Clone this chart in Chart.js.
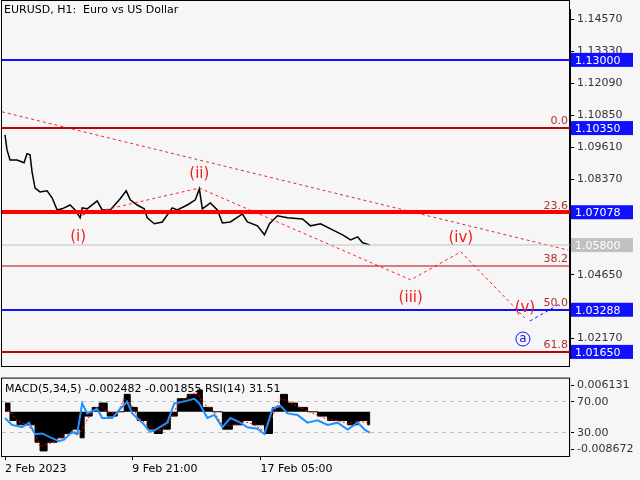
<!DOCTYPE html>
<html>
<head>
<meta charset="utf-8">
<script src="https://cdn.jsdelivr.net/npm/chart.js@4"></script>
<style>
  body { margin: 0; background: #f6f6f6; width: 640px; height: 480px; overflow: hidden; position: relative; font-family: "DejaVu Sans", sans-serif; }
  canvas { position: absolute; left: 0; }
  #main { top: 0; }
  #sub { top: 368px; }
</style>
</head>
<body>
<canvas id="main" width="640" height="368"></canvas>
<canvas id="sub" width="640" height="112"></canvas>
<script>
// price path (x = bar position, y = price)
const priceX = [3,5,8,15,22,25,28,30,33,38,45,50,55,60,68,73,78,80,85,95,100,108,118,124,128,135,142,145,152,160,170,175,185,193,197,200,208,215,220,228,240,245,255,262,267,275,285,300,308,318,330,340,348,355,360,367];
const priceY = [1.1009,1.0950,1.0911,1.0911,1.0900,1.0935,1.0931,1.0865,1.0802,1.0787,1.0791,1.0764,1.0717,1.0721,1.0736,1.0717,1.0686,1.0725,1.0721,1.0752,1.0717,1.0717,1.0760,1.0791,1.0756,1.0736,1.0721,1.0686,1.0663,1.0670,1.0725,1.0717,1.0736,1.0756,1.0799,1.0721,1.0744,1.0717,1.0666,1.0670,1.0701,1.0670,1.0655,1.0620,1.0663,1.0694,1.0686,1.0682,1.0655,1.0663,1.0639,1.0620,1.0600,1.0612,1.0589,1.0581];

// elliott wave path and trend line
const waveX = [80,197,408,458,522];
const waveY = [1.0697,1.0802,1.0445,1.0554,1.0297];
const waveLabels = ["(i)","(ii)","(iii)","(iv)","(v)"];
const trendX = [0,565];
const trendY = [1.1098,1.0561];

// horizontal levels
const levelValues = [1.13000,1.10350,1.07078,1.05800,1.04990,1.03288,1.01650];
const levelLabels = ["1.13000","1.10350","1.07078","1.05800","","1.03288","1.01650"];
const fibValues = [1.10350,1.07078,1.04990,1.03288,1.01650];
const fibLabels = ["0.0","23.6","38.2","50.0","61.8"];
const priceTicks = [1.14570,1.13330,1.12090,1.10850,1.09610,1.08370,1.04650,1.02170];

// indicator panel
const macdX = [3,8,15,25,33,38,45,55,62,70,78,82,90,97,105,115,122,128,135,145,152,160,168,175,185,195,200,210,220,230,240,250,262,270,278,285,295,305,315,325,335,345,355,365,367];
const macdHist = [0.002,-0.002,-0.003,-0.003,-0.007,-0.009,-0.007,-0.006,-0.005,-0.004,-0.006,-0.001,0.001,0.002,-0.001,0.000,0.004,0.001,-0.002,-0.004,-0.005,-0.004,-0.001,0.003,0.004,0.005,0.001,0.000,-0.004,-0.003,-0.002,-0.003,-0.005,0.001,0.004,0.002,0.001,0.000,-0.001,-0.002,-0.002,-0.003,-0.002,-0.003,0];
const macdSignal = [0.001,0.000,-0.002,-0.003,-0.005,-0.008,-0.0075,-0.0065,-0.0055,-0.0045,-0.005,-0.003,0.000,0.0015,0.000,-0.0005,0.003,0.002,-0.001,-0.003,-0.0045,-0.0042,-0.002,0.0015,0.0035,0.0045,0.002,0.0005,-0.003,-0.0032,-0.0022,-0.0028,-0.0045,-0.001,0.003,0.0025,0.0012,0.0002,-0.0008,-0.0018,-0.002,-0.0027,-0.0022,-0.0025,-0.0025];
const rsiX = [3,10,20,27,33,40,50,57,62,70,75,80,85,95,100,110,118,125,130,140,148,155,165,172,180,192,197,205,212,220,228,238,245,255,262,270,278,285,295,305,315,325,335,345,355,362,367];
const rsiY = [49,40,37,43,28,29,23,19,21,31,28,68,55,61,49,49,61,70,55,43,31,35,43,68,70,74,68,49,53,37,49,43,37,35,28,61,65,55,53,43,46,40,43,34,43,34,30];
const timeTicks = [3,130,258];
const timeLabels = ["2 Feb 2023","9 Feb 21:00","17 Feb 05:00"];

const pts = (xs, ys) => xs.map((x, i) => ({ x: x, y: ys[i] }));
const FONT = '11px "DejaVu Sans"';

const overlay = {
  id: 'overlay',
  afterDatasetsDraw(chart) {
    const { ctx, chartArea: a } = chart;
    const xs = chart.scales.x, ys = chart.scales.y;
    ctx.save();
    ctx.strokeStyle = "#000"; ctx.lineWidth = 1;
    ctx.strokeRect(a.left - 0.5, 0.5, a.right - a.left, 366);
    const styles = [["#1010ff",2],["#c00000",2],["#ff0000",4],["#c0c0c0",1],["#c00000",1],["#1010ff",2],["#c00000",2]];
    levelValues.forEach((v, i) => {
      const y = Math.round(ys.getPixelForValue(v));
      ctx.strokeStyle = styles[i][0];
      ctx.lineWidth = styles[i][1];
      ctx.beginPath(); ctx.moveTo(a.left, y); ctx.lineTo(a.right, y); ctx.stroke();
    });
    ctx.font = FONT;
    ctx.fillStyle = "#b03030";
    ctx.textAlign = "right";
    ctx.textBaseline = "bottom";
    fibValues.forEach((v, i) => ctx.fillText(fibLabels[i], a.right - 2, ys.getPixelForValue(v) - 1));
    ctx.font = '15px "DejaVu Sans"';
    ctx.fillStyle = "#ee2020";
    ctx.textAlign = "center";
    const off = [[-4,22],[0,-14],[0,18],[0,-14],[0,-10]];
    waveX.forEach((x, i) => {
      ctx.textBaseline = "middle";
      ctx.fillText(waveLabels[i], xs.getPixelForValue(x) + off[i][0], ys.getPixelForValue(waveY[i]) + off[i][1]);
    });
    // wave (a) circle and blue dashed continuation
    ctx.strokeStyle = "#1010ff"; ctx.lineWidth = 1;
    ctx.setLineDash([3, 3]);
    ctx.beginPath();
    ctx.moveTo(xs.getPixelForValue(527), ys.getPixelForValue(1.0285));
    ctx.lineTo(xs.getPixelForValue(556), ys.getPixelForValue(1.0350));
    ctx.stroke();
    ctx.setLineDash([]);
    const cx = xs.getPixelForValue(520), cy = ys.getPixelForValue(1.0215);
    ctx.beginPath(); ctx.arc(cx, cy, 7, 0, Math.PI * 2); ctx.stroke();
    ctx.fillStyle = "#1010ff"; ctx.font = '12px "DejaVu Sans"';
    ctx.fillText("a", cx, cy);
    // title
    ctx.fillStyle = "#000"; ctx.font = FONT; ctx.textAlign = "left"; ctx.textBaseline = "middle";
    ctx.fillText("EURUSD, H1:  Euro vs US Dollar", 4, 10);
    // price boxes
    levelValues.forEach((v, i) => {
      if (!levelLabels[i]) return;
      const y = ys.getPixelForValue(v);
      ctx.fillStyle = i === 3 ? "#c0c0c0" : "#1010ff";
      ctx.fillRect(a.right + 1, y - 7, 62, 14);
      ctx.fillStyle = "#fff";
      ctx.fillText(levelLabels[i], a.right + 5, y + 1);
    });
    ctx.restore();
  }
};

new Chart(document.getElementById("main"), {
  type: "line",
  data: {
    datasets: [
      { data: pts(trendX, trendY), borderColor: "#dd3030", borderWidth: 1, borderDash: [3, 3], pointRadius: 0 },
      { data: pts(waveX, waveY), borderColor: "#ff2020", borderWidth: 1, borderDash: [3, 3], pointRadius: 0 },
      { data: pts(priceX, priceY), borderColor: "#000", borderWidth: 1.5, pointRadius: 0, tension: 0 }
    ]
  },
  options: {
    animation: false, responsive: false,
    layout: { padding: { top: 0, left: 2, right: 0, bottom: 0 } },
    plugins: { legend: { display: false }, tooltip: { enabled: false } },
    scales: {
      x: { type: "linear", min: 0, max: 567, display: false },
      y: {
        position: "right", min: 1.01397, max: 1.14955,
        afterFit: s => { s.width = 70; },
        afterBuildTicks: s => { s.ticks = priceTicks.map(v => ({ value: v })); },
        ticks: { color: "#333", font: { size: 11, family: "DejaVu Sans" }, padding: 3, callback: v => v.toFixed(5) },
        grid: { drawOnChartArea: false, tickLength: 4, color: "#000" },
        border: { color: "#000" }
      }
    }
  },
  plugins: [overlay]
});

const subOverlay = {
  id: 'subOverlay',
  afterDatasetsDraw(chart) {
    const { ctx, chartArea: a } = chart;
    ctx.save();
    ctx.strokeStyle = "#000"; ctx.lineWidth = 1;
    ctx.strokeRect(a.left - 0.5, a.top + 0.5, a.right - a.left, a.bottom - a.top);
    ctx.fillStyle = "#000"; ctx.font = FONT; ctx.textBaseline = "middle";
    ctx.fillText("MACD(5,34,5) -0.002482 -0.001855 RSI(14) 31.51", 5, a.top + 12);
    ctx.restore();
  }
};

new Chart(document.getElementById("sub"), {
  data: {
    datasets: [
      { type: "line", data: pts(macdX, macdHist), borderColor: "#000", backgroundColor: "#000", borderWidth: 1, fill: "origin", stepped: true, pointRadius: 0, yAxisID: "y", order: 3 },
      { type: "line", data: pts(macdX, macdSignal), borderColor: "#ff0000", borderWidth: 1, borderDash: [2, 2], pointRadius: 0, yAxisID: "y", order: 2 },
      { type: "line", data: pts(rsiX, rsiY), borderColor: "#1e90ff", borderWidth: 2, pointRadius: 0, yAxisID: "yRsi", order: 1 }
    ]
  },
  options: {
    animation: false, responsive: false,
    layout: { padding: { top: 4, left: 2, right: 0, bottom: 0 } },
    plugins: { legend: { display: false }, tooltip: { enabled: false } },
    scales: {
      x: {
        type: "linear", min: 0, max: 567, offset: false,
        afterFit: s => { s.height = 24; },
        afterBuildTicks: s => { s.ticks = timeTicks.map(v => ({ value: v })); },
        ticks: { color: "#000", font: { size: 11, family: "DejaVu Sans" }, align: "start", maxRotation: 0, callback: (v, i) => timeLabels[i] },
        grid: { drawOnChartArea: false, tickLength: 4, color: "#000" },
        border: { display: false }
      },
      y: {
        position: "right", min: -0.01017, max: 0.00785,
        afterFit: s => { s.width = 70; },
        afterBuildTicks: s => {
          s.ticks = [0.006131, 0.002274, -0.004806, -0.008672].map(v => ({ value: v }));
        },
        ticks: { color: "#333", font: { size: 11, family: "DejaVu Sans" }, padding: 3,
          callback: (v, i) => ["0.006131", "70.00", "30.00", "-0.008672"][i] },
        grid: { color: (c) => (c.index === 1 || c.index === 2) ? "#c0c0c0" : "rgba(0,0,0,0)", tickColor: "#000", tickLength: 4 },
        border: { dash: [4, 4] }
      },
      yRsi: { type: "linear", axis: "y", position: "left", display: false, min: -0.3, max: 101.5 }
    }
  },
  plugins: [subOverlay]
});
</script>
</body>
</html>
